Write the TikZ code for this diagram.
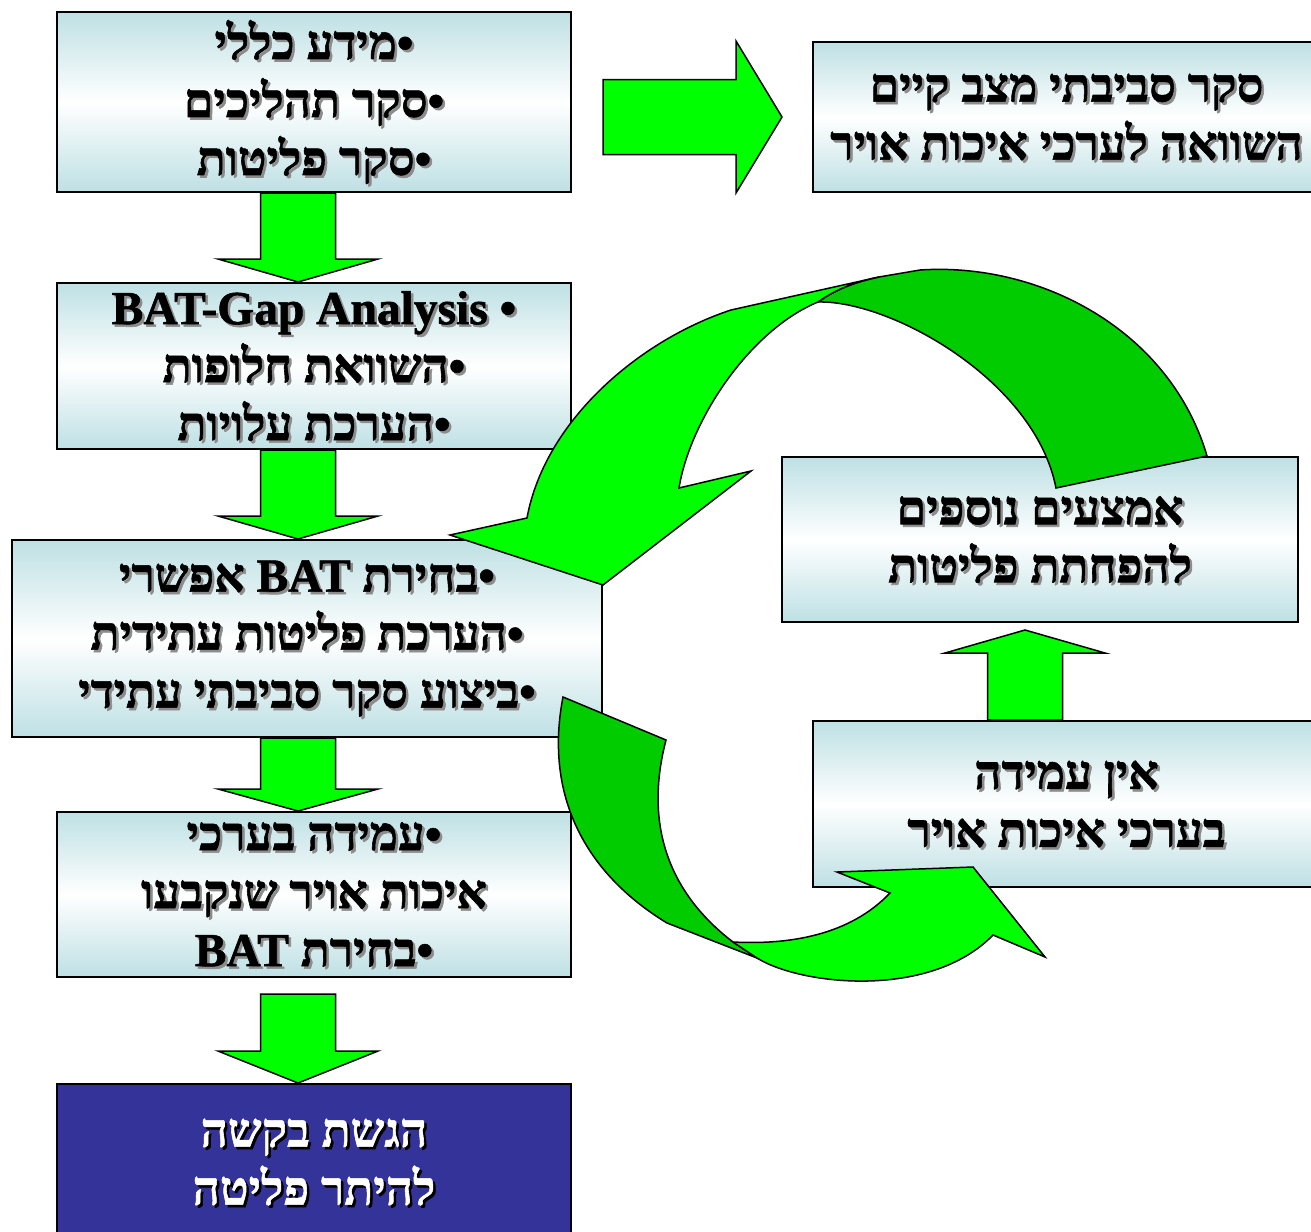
\documentclass[tikz,border=0pt]{standalone}
\usepackage{fontspec}
\usetikzlibrary{calc}
\TeXXeTstate=1
\newfontfamily\hebfont[Script=Hebrew, BoldFeatures={FakeBold=1.2}]{Liberation Serif}
\definecolor{lgreen}{RGB}{0,255,0}
\definecolor{dgreen}{RGB}{0,204,0}
\definecolor{boxblue}{RGB}{190,224,228}
\definecolor{navy}{RGB}{51,51,153}
\tikzset{
  box/.style={draw=black, line width=2pt, top color=boxblue, bottom color=boxblue, middle color=white, inner sep=0pt},
  navybox/.style={draw=black, line width=2pt, fill=navy, inner sep=0pt},
  txt/.style={font=\hebfont\bfseries\fontsize{47.5}{58}\selectfont, align=center, inner sep=0pt},
  garrow/.style={fill=lgreen, draw=black, line width=1.5pt, line join=miter},
  darrow/.style={fill=dgreen, draw=black, line width=1.5pt, line join=miter}
}
\newcommand\shadowed[5]{%
  \node[txt,text=#5,xshift=2.5pt,yshift=-2.5pt] at (#2) {#3};
  \node[txt,text=#4] (#1) at (#2) {#3};}
\newcommand\dnarrow[3]{%
  \draw[garrow] ($(#1)+(-37.5,0)$) -- ($(#1)+(37.5,0)$) -- ($(#2)+(37.5,-#3)$) -- ($(#2)+(80,-#3)$) -- (#2) -- ($(#2)+(-80,-#3)$) -- ($(#2)+(-37.5,-#3)$) -- cycle;}
\begin{document}
\begin{tikzpicture}[x=1pt,y=-1pt]
\clip (0,0) rectangle (1311,1231);
\fill[white] (0,0) rectangle (1311,1231);
% boxes
\node[box, minimum width=514pt, minimum height=180pt] (b1) at (314,102) {};
\node[box, minimum width=507pt, minimum height=150pt] (b2) at (1066.5,117) {};
\node[box, minimum width=514pt, minimum height=166pt] (b3) at (314,366) {};
\node[box, minimum width=590pt, minimum height=197pt] (b4) at (307,638.5) {};
\node[box, minimum width=514pt, minimum height=165pt] (b5) at (314,894.5) {};
\node[navybox, minimum width=514pt, minimum height=156pt] (b6) at (314,1162) {};
\node[box, minimum width=516pt, minimum height=165pt] (b7) at (1040,539.5) {};
\node[box, minimum width=507pt, minimum height=166pt] (b8) at (1066.5,804) {};
% texts
\shadowed{t1}{b1.center}{\beginR•מידע כללי\endR\\\beginR•סקר תהליכים\endR\\\beginR•סקר פליטות\endR}{black}{black!45}
\shadowed{t2}{b2.center}{\beginR סקר סביבתי מצב קיים\endR\\\beginR השוואה לערכי איכות אויר\endR}{black}{black!45}
\shadowed{t3}{b3.center}{\beginR•\ \beginL BAT-Gap Analysis\endL\endR\\\beginR•השוואת חלופות\endR\\\beginR•הערכת עלויות\endR}{black}{black!45}
\shadowed{t4}{b4.center}{\beginR•בחירת \beginL BAT\endL{} אפשרי\endR\\\beginR•הערכת פליטות עתידית\endR\\\beginR•ביצוע סקר סביבתי עתידי\endR}{black}{black!45}
\shadowed{t5}{b5.center}{\beginR•עמידה בערכי\endR\\\beginR איכות אויר שנקבעו\endR\\\beginR•בחירת \beginL BAT\endL\endR}{black}{black!45}
\shadowed{t6}{b6.center}{\beginR הגשת בקשה\endR\\\beginR להיתר פליטה\endR}{white}{black}
\shadowed{t7}{b7.center}{\beginR אמצעים נוספים\endR\\\beginR להפחתת פליטות\endR}{black}{black!45}
\shadowed{t8}{b8.center}{\beginR אין עמידה\endR\\\beginR בערכי איכות אויר\endR}{black}{black!45}
% straight block arrows
\coordinate (ax) at (298,0);
\coordinate (ux) at (1025,0);
\dnarrow{b1.south -| ax}{b3.north -| ax}{23}
\dnarrow{b3.south -| ax}{b4.north -| ax}{23}
\dnarrow{b4.south -| ax}{b5.north -| ax}{22}
\coordinate (s4) at ($(b5.south -| ax)+(0,16)$);
\dnarrow{s4}{b6.north -| ax}{32}
% up arrow
\coordinate (us) at (b8.north -| ux);
\coordinate (ut) at ($(b7.south -| ux)+(0,7)$);
\draw[garrow] ($(us)+(-37.5,0)$) -- ($(ut)+(-37.5,23)$) -- ($(ut)+(-80,23)$) -- (ut) -- ($(ut)+(80,23)$) -- ($(ut)+(37.5,23)$) -- ($(us)+(37.5,0)$) -- cycle;
% right arrow
\coordinate (rs) at ($(b1.east |- b2.west)+(31,0)$);
\coordinate (rt) at ($(b2.west)+(-30,0)$);
\draw[garrow] ($(rs)+(0,-37.5)$) -- ($(rt)+(-46,-37.5)$) -- ($(rt)+(-46,-76)$) -- (rt) -- ($(rt)+(-46,76)$) -- ($(rt)+(-46,37.5)$) -- ($(rs)+(0,37.5)$) -- cycle;
% curved arrow b7 -> b4 (back part)
\draw[darrow] (818,302) .. controls (890,300) and (1035,380) .. (1056,488)
  -- (1207,456) .. controls (1170,330) and (1040,262) .. (920,270)
  -- (879,277) .. controls (850,283) and (832,292) .. cycle;
% curved arrow b7 -> b4 (front part)
\draw[garrow] (879,277) -- (731,310) .. controls (640,340) and (545,420) .. (527,518)
  -- (450,535) -- (603,585) -- (751,471) -- (679,488)
  .. controls (690,420) and (750,330) .. (818,302)
  .. controls (832,292) and (850,283) .. cycle;
% curved arrow b4 -> b8 (back part)
\draw[darrow] (563,697) .. controls (545,790) and (580,870) .. (667,923)
  -- (757,958) -- (733,942) .. controls (665,890) and (645,820) .. (666,740) -- cycle;
% curved arrow b4 -> b8 (front part)
\draw[garrow] (757,958) .. controls (800,985) and (930,1000) .. (993,935)
  -- (1045,957) -- (973,867) -- (837,872) -- (890,893)
  .. controls (850,935) and (790,945) .. (733,942) -- cycle;
\end{tikzpicture}
\end{document}
